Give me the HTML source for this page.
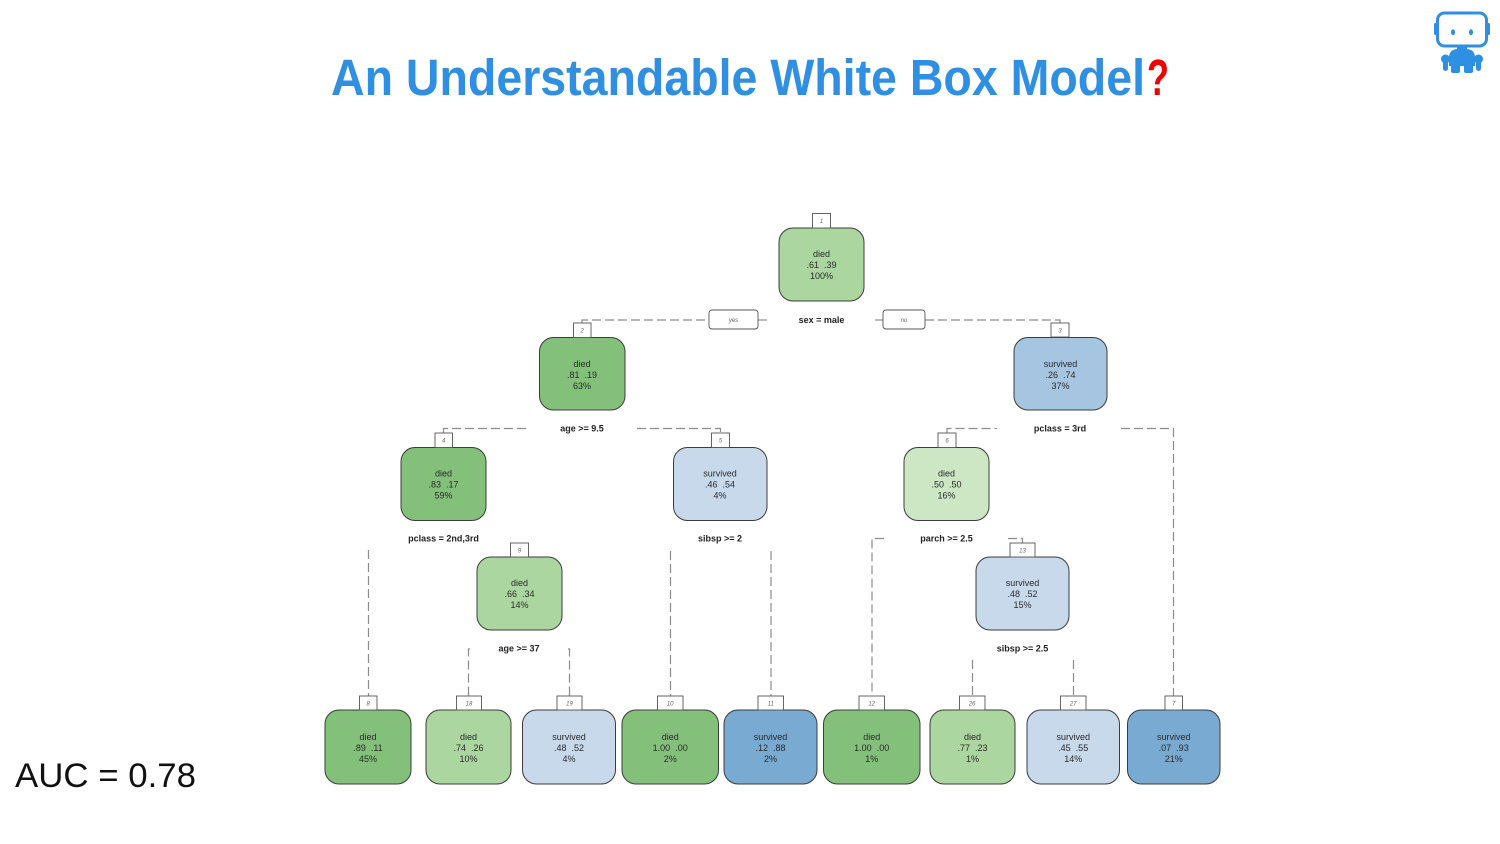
<!DOCTYPE html>
<html>
<head>
<meta charset="utf-8">
<style>
  html,body{margin:0;padding:0;background:#fff;}
  body{width:1500px;height:844px;overflow:hidden;}
  svg{display:block;}
  .nt{font-family:"Liberation Sans",Arial,sans-serif;font-size:9px;fill:#2a2a2a;text-anchor:middle;white-space:pre;}
  .sp{font-family:"Liberation Sans",Arial,sans-serif;font-size:9px;font-weight:bold;fill:#222;text-anchor:middle;}
  .lb{font-family:"Liberation Sans",Arial,sans-serif;font-size:6px;font-style:italic;fill:#666;text-anchor:middle;}
  .nd{stroke:#3c3c3c;stroke-width:1;}
  .bx{fill:#fff;stroke:#555;stroke-width:0.9;}
  .dl{stroke:#8c8c8c;stroke-width:1.2;stroke-dasharray:9 4;fill:none;}
</style>
</head>
<body>
<svg width="1500" height="844" viewBox="0 0 1500 844" xmlns="http://www.w3.org/2000/svg">
  <rect x="0" y="0" width="1500" height="844" fill="#fff"/>

  <!-- Title -->
  <text x="331" y="95" font-family="'Liberation Sans',Arial,sans-serif" font-size="51" font-weight="bold" fill="#2f8fe3" textLength="814" lengthAdjust="spacingAndGlyphs">An Understandable White Box Model</text>
  <text x="1147" y="95" font-family="'Liberation Sans',Arial,sans-serif" font-size="51" font-weight="bold" fill="#ee0000" textLength="22" lengthAdjust="spacingAndGlyphs">?</text>

  <!-- Robot icon -->
  <g fill="#2f8fe3">
    <rect x="1437.5" y="13" width="49" height="33" rx="7" ry="7" fill="#fff" stroke="#2f8fe3" stroke-width="3"/>
    <rect x="1434" y="23" width="3" height="12" rx="1.5"/>
    <rect x="1487" y="23" width="3" height="12" rx="1.5"/>
    <ellipse cx="1453" cy="32.3" rx="2" ry="3"/>
    <ellipse cx="1471" cy="32.3" rx="2" ry="3"/>
    <rect x="1457" y="46" width="10" height="4"/>
    <path d="M1449 58 Q1449 49 1458 49 L1466 49 Q1475 49 1475 58 L1475 66 L1449 66 Z"/>
    <circle cx="1445.5" cy="59" r="4.5"/>
    <circle cx="1478.5" cy="59" r="4.5"/>
    <rect x="1443" y="60" width="5" height="11" rx="2.5"/>
    <rect x="1476" y="60" width="5" height="11" rx="2.5"/>
    <rect x="1451" y="64" width="9" height="9" rx="2"/>
    <rect x="1464" y="64" width="9" height="9" rx="2"/>
  </g>

  <!-- AUC -->
  <text x="15" y="787" font-family="'Liberation Sans',Arial,sans-serif" font-size="34" fill="#111" textLength="181" lengthAdjust="spacingAndGlyphs">AUC = 0.78</text>

  <!-- Connectors -->
  <!-- root split -->
  <path class="dl" d="M582 323 L582 320 L709 320"/>
  <path class="dl" d="M758 320 L769 320"/>
  <path class="dl" d="M875 320 L883 320"/>
  <path class="dl" d="M925 320 L1060 320 L1060 323"/>
  <rect class="bx" x="709" y="310" width="49" height="19" rx="3"/>
  <text class="lb" x="733.5" y="322">yes</text>
  <rect class="bx" x="883" y="310" width="42" height="19" rx="3"/>
  <text class="lb" x="904" y="322">no</text>

  <!-- node 2 split -->
  <path class="dl" d="M443.5 433 L443.5 428.5 L529 428.5"/>
  <path class="dl" d="M637 428.5 L720.5 428.5 L720.5 433"/>
  <!-- node 3 split -->
  <path class="dl" d="M947 433 L947 428.5 L997 428.5"/>
  <path class="dl" d="M1121 428.5 L1173.5 428.5 L1173.5 696"/>
  <!-- node 4 split -->
  <path class="dl" d="M368.5 550 L368.5 696"/>
  <!-- node 5 split -->
  <path class="dl" d="M670.5 551 L670.5 696"/>
  <path class="dl" d="M771 551 L771 696"/>
  <!-- node 6 split -->
  <path class="dl" d="M884 538.5 L872 538.5 L872 696"/>
  <path class="dl" d="M1008 538.5 L1022.5 538.5 L1022.5 543"/>
  <!-- node 9 split -->
  <path class="dl" d="M470 649 L468.5 649 L468.5 696"/>
  <path class="dl" d="M568 649 L569.5 649 L569.5 696"/>
  <!-- node 13 split -->
  <path class="dl" d="M972.5 660 L972.5 696"/>
  <path class="dl" d="M1073.5 660 L1073.5 696"/>

  <!-- Nodes -->
  <!-- root -->
  <rect class="nd" x="779" y="228" width="85" height="73" rx="14" fill="#acd69f"/>
  <rect class="bx" x="812.5" y="213.5" width="18" height="14.5"/>
  <text class="lb" x="821.5" y="223">1</text>
  <text class="nt" x="821.5" y="257">died</text>
  <text class="nt" x="821.5" y="268">.61  .39</text>
  <text class="nt" x="821.5" y="279">100%</text>
  <text class="sp" x="821.5" y="323">sex = male</text>

  <!-- node 2 -->
  <rect class="nd" x="539.5" y="337.5" width="85.5" height="72.5" rx="14" fill="#83c07a"/>
  <rect class="bx" x="573.5" y="323" width="17.5" height="14.5"/>
  <text class="lb" x="582.2" y="332.5">2</text>
  <text class="nt" x="582" y="367">died</text>
  <text class="nt" x="582" y="378">.81  .19</text>
  <text class="nt" x="582" y="389">63%</text>
  <text class="sp" x="582" y="431.5">age &gt;= 9.5</text>

  <!-- node 3 -->
  <rect class="nd" x="1014" y="337.5" width="93" height="72.5" rx="14" fill="#a6c5e0"/>
  <rect class="bx" x="1051" y="323" width="18" height="14"/>
  <text class="lb" x="1060" y="332.5">3</text>
  <text class="nt" x="1060.5" y="367">survived</text>
  <text class="nt" x="1060.5" y="378">.26  .74</text>
  <text class="nt" x="1060.5" y="389">37%</text>
  <text class="sp" x="1060" y="431.5">pclass = 3rd</text>

  <!-- node 4 -->
  <rect class="nd" x="401" y="447.5" width="85" height="73" rx="14" fill="#83c07a"/>
  <rect class="bx" x="435" y="433" width="17.5" height="14.5"/>
  <text class="lb" x="443.7" y="442.5">4</text>
  <text class="nt" x="443.5" y="476.5">died</text>
  <text class="nt" x="443.5" y="487.5">.83  .17</text>
  <text class="nt" x="443.5" y="498.5">59%</text>
  <text class="sp" x="443.5" y="541.5">pclass = 2nd,3rd</text>

  <!-- node 5 -->
  <rect class="nd" x="673.5" y="447.5" width="93.5" height="73" rx="14" fill="#c8d9ec"/>
  <rect class="bx" x="711.5" y="433" width="18" height="14.5"/>
  <text class="lb" x="720.5" y="442.5">5</text>
  <text class="nt" x="720" y="476.5">survived</text>
  <text class="nt" x="720" y="487.5">.46  .54</text>
  <text class="nt" x="720" y="498.5">4%</text>
  <text class="sp" x="720" y="541.5">sibsp &gt;= 2</text>

  <!-- node 6 -->
  <rect class="nd" x="904" y="447.5" width="85" height="73" rx="14" fill="#cde7c4"/>
  <rect class="bx" x="938" y="433" width="18" height="14.5"/>
  <text class="lb" x="947" y="442.5">6</text>
  <text class="nt" x="946.5" y="476.5">died</text>
  <text class="nt" x="946.5" y="487.5">.50  .50</text>
  <text class="nt" x="946.5" y="498.5">16%</text>
  <text class="sp" x="946.5" y="541.5">parch &gt;= 2.5</text>

  <!-- node 9 -->
  <rect class="nd" x="477" y="557" width="85" height="73" rx="14" fill="#acd69f"/>
  <rect class="bx" x="510.5" y="543" width="18" height="14"/>
  <text class="lb" x="519.5" y="552.5">9</text>
  <text class="nt" x="519.5" y="586">died</text>
  <text class="nt" x="519.5" y="597">.66  .34</text>
  <text class="nt" x="519.5" y="608">14%</text>
  <text class="sp" x="519" y="651.5">age &gt;= 37</text>

  <!-- node 13 -->
  <rect class="nd" x="976" y="557" width="93" height="73" rx="14" fill="#c8d9ec"/>
  <rect class="bx" x="1010" y="543" width="25" height="14"/>
  <text class="lb" x="1022.5" y="552.5">13</text>
  <text class="nt" x="1022.5" y="586">survived</text>
  <text class="nt" x="1022.5" y="597">.48  .52</text>
  <text class="nt" x="1022.5" y="608">15%</text>
  <text class="sp" x="1022.5" y="651.5">sibsp &gt;= 2.5</text>

  <!-- Leaves -->
  <!-- 8 -->
  <rect class="nd" x="325" y="710" width="86" height="74" rx="14" fill="#83c07a"/>
  <rect class="bx" x="359.5" y="696" width="17.5" height="14"/>
  <text class="lb" x="368.2" y="705.5">8</text>
  <text class="nt" x="368" y="740">died</text>
  <text class="nt" x="368" y="751">.89  .11</text>
  <text class="nt" x="368" y="762">45%</text>

  <!-- 18 -->
  <rect class="nd" x="426" y="710" width="85" height="74" rx="14" fill="#acd69f"/>
  <rect class="bx" x="456.5" y="696" width="25" height="14"/>
  <text class="lb" x="469" y="705.5">18</text>
  <text class="nt" x="468.5" y="740">died</text>
  <text class="nt" x="468.5" y="751">.74  .26</text>
  <text class="nt" x="468.5" y="762">10%</text>

  <!-- 19 -->
  <rect class="nd" x="522.5" y="710" width="93" height="74" rx="14" fill="#c8d9ec"/>
  <rect class="bx" x="557" y="696" width="25" height="14"/>
  <text class="lb" x="569.5" y="705.5">19</text>
  <text class="nt" x="569" y="740">survived</text>
  <text class="nt" x="569" y="751">.48  .52</text>
  <text class="nt" x="569" y="762">4%</text>

  <!-- 10 -->
  <rect class="nd" x="622" y="710" width="96.5" height="74" rx="14" fill="#83c07a"/>
  <rect class="bx" x="657.5" y="696" width="25.5" height="14"/>
  <text class="lb" x="670.2" y="705.5">10</text>
  <text class="nt" x="670.2" y="740">died</text>
  <text class="nt" x="670.2" y="751">1.00  .00</text>
  <text class="nt" x="670.2" y="762">2%</text>

  <!-- 11 -->
  <rect class="nd" x="724" y="710" width="93" height="74" rx="14" fill="#78aad2"/>
  <rect class="bx" x="758" y="696" width="25.5" height="14"/>
  <text class="lb" x="770.7" y="705.5">11</text>
  <text class="nt" x="770.5" y="740">survived</text>
  <text class="nt" x="770.5" y="751">.12  .88</text>
  <text class="nt" x="770.5" y="762">2%</text>

  <!-- 12 -->
  <rect class="nd" x="823.5" y="710" width="96.5" height="74" rx="14" fill="#83c07a"/>
  <rect class="bx" x="859" y="696" width="25.5" height="14"/>
  <text class="lb" x="871.7" y="705.5">12</text>
  <text class="nt" x="871.7" y="740">died</text>
  <text class="nt" x="871.7" y="751">1.00  .00</text>
  <text class="nt" x="871.7" y="762">1%</text>

  <!-- 26 -->
  <rect class="nd" x="930" y="710" width="85" height="74" rx="14" fill="#acd69f"/>
  <rect class="bx" x="959.5" y="696" width="25.5" height="14"/>
  <text class="lb" x="972.2" y="705.5">26</text>
  <text class="nt" x="972.5" y="740">died</text>
  <text class="nt" x="972.5" y="751">.77  .23</text>
  <text class="nt" x="972.5" y="762">1%</text>

  <!-- 27 -->
  <rect class="nd" x="1027" y="710" width="92.5" height="74" rx="14" fill="#c8d9ec"/>
  <rect class="bx" x="1060.5" y="696" width="25.5" height="14"/>
  <text class="lb" x="1073.2" y="705.5">27</text>
  <text class="nt" x="1073.2" y="740">survived</text>
  <text class="nt" x="1073.2" y="751">.45  .55</text>
  <text class="nt" x="1073.2" y="762">14%</text>

  <!-- 7 -->
  <rect class="nd" x="1127.5" y="710" width="92.5" height="74" rx="14" fill="#78aad2"/>
  <rect class="bx" x="1165" y="696" width="17.5" height="14"/>
  <text class="lb" x="1173.7" y="705.5">7</text>
  <text class="nt" x="1173.7" y="740">survived</text>
  <text class="nt" x="1173.7" y="751">.07  .93</text>
  <text class="nt" x="1173.7" y="762">21%</text>
</svg>
</body>
</html>
